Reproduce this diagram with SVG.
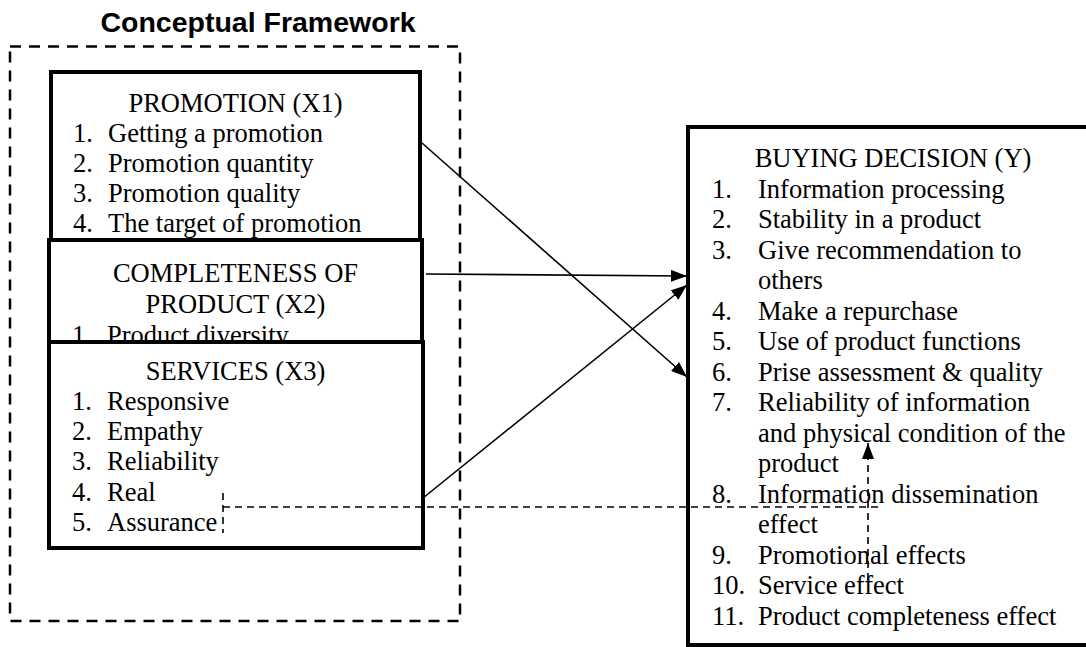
<svg xmlns="http://www.w3.org/2000/svg" width="1086" height="647" viewBox="0 0 1086 647">
<style>
.t{font-family:"Liberation Serif","Times New Roman",serif;font-size:26.5px;fill:#000}
.c{text-anchor:middle}
.box{fill:#fff;stroke:#000;stroke-width:4}
.ln{stroke:#000;stroke-width:1.6;fill:none}
.dl{stroke:#000;stroke-width:1.6;fill:none;stroke-dasharray:7 5}
</style>
<defs>
<marker id="ah" markerUnits="userSpaceOnUse" markerWidth="16" markerHeight="12" refX="16" refY="6" orient="auto">
<path d="M0,0 L16,6 L0,12 z" fill="#000"/>
</marker>
</defs>
<rect width="1086" height="647" fill="#fff"/>
<text x="258" y="32" text-anchor="middle" style="font-family:'Liberation Sans',Arial,sans-serif;font-weight:bold;font-size:28.5px">Conceptual Framework</text>
<rect x="10" y="46.5" width="450" height="574.5" fill="none" stroke="#000" stroke-width="2.5" stroke-dasharray="11 8"/>

<g id="promotion">
<rect class="box" x="51" y="72" width="369" height="200"/>
<text class="t c" x="235.5" y="111.5">PROMOTION (X1)</text>
<text class="t" x="73" y="141.5">1.</text><text class="t" x="108" y="141.5">Getting a promotion</text>
<text class="t" x="73" y="171.5">2.</text><text class="t" x="108" y="171.5">Promotion quantity</text>
<text class="t" x="73" y="201.5">3.</text><text class="t" x="108" y="201.5">Promotion quality</text>
<text class="t" x="73" y="231.5">4.</text><text class="t" x="108" y="231.5">The target of promotion</text>
</g>

<g id="completeness">
<rect class="box" x="49" y="240" width="373" height="120"/>
<text class="t c" x="235.5" y="281.5">COMPLETENESS OF</text>
<text class="t c" x="235.5" y="313">PRODUCT (X2)</text>
<text class="t" x="72" y="343.5">1.</text><text class="t" x="107" y="343.5">Product diversity</text>
</g>

<g id="services">
<rect class="box" x="49" y="342" width="374" height="206"/>
<text class="t c" x="235.5" y="380">SERVICES (X3)</text>
<text class="t" x="72" y="410">1.</text><text class="t" x="107" y="410">Responsive</text>
<text class="t" x="72" y="440">2.</text><text class="t" x="107" y="440">Empathy</text>
<text class="t" x="72" y="470">3.</text><text class="t" x="107" y="470">Reliability</text>
<text class="t" x="72" y="501">4.</text><text class="t" x="107" y="501">Real</text>
<text class="t" x="72" y="531">5.</text><text class="t" x="107" y="531">Assurance</text>
</g>

<g id="buying">
<rect class="box" x="688" y="127" width="420" height="518"/>
<text class="t c" x="893" y="167">BUYING DECISION (Y)</text>
<text class="t" x="712" y="197.5">1.</text><text class="t" x="758" y="197.5">Information processing</text>
<text class="t" x="712" y="228">2.</text><text class="t" x="758" y="228">Stability in a product</text>
<text class="t" x="712" y="258.5">3.</text><text class="t" x="758" y="258.5">Give recommendation to</text>
<text class="t" x="758" y="289">others</text>
<text class="t" x="712" y="319.5">4.</text><text class="t" x="758" y="319.5">Make a repurchase</text>
<text class="t" x="712" y="350">5.</text><text class="t" x="758" y="350">Use of product functions</text>
<text class="t" x="712" y="380.5">6.</text><text class="t" x="758" y="380.5">Prise assessment &amp; quality</text>
<text class="t" x="712" y="411">7.</text><text class="t" x="758" y="411">Reliability of information</text>
<text class="t" x="758" y="441.5">and physical condition of the</text>
<text class="t" x="758" y="472">product</text>
<text class="t" x="712" y="502.5">8.</text><text class="t" x="758" y="502.5">Information dissemination</text>
<text class="t" x="758" y="533">effect</text>
<text class="t" x="712" y="563.5">9.</text><text class="t" x="758" y="563.5">Promotional effects</text>
<text class="t" x="712" y="594">10.</text><text class="t" x="758" y="594">Service effect</text>
<text class="t" x="712" y="624.5">11.</text><text class="t" x="758" y="624.5">Product completeness effect</text>
</g>

<g id="connectors">
<line class="ln" x1="422" y1="143" x2="687" y2="377" marker-end="url(#ah)"/>
<line class="ln" x1="426" y1="274" x2="687" y2="276" marker-end="url(#ah)"/>
<line class="ln" x1="423" y1="498" x2="687" y2="285" marker-end="url(#ah)"/>
<line class="dl" x1="223" y1="493" x2="223" y2="533"/>
<line class="dl" x1="223" y1="507" x2="878" y2="507"/>
<line class="dl" x1="868" y1="580" x2="868" y2="443" marker-end="url(#ah)"/>
</g>
</svg>
